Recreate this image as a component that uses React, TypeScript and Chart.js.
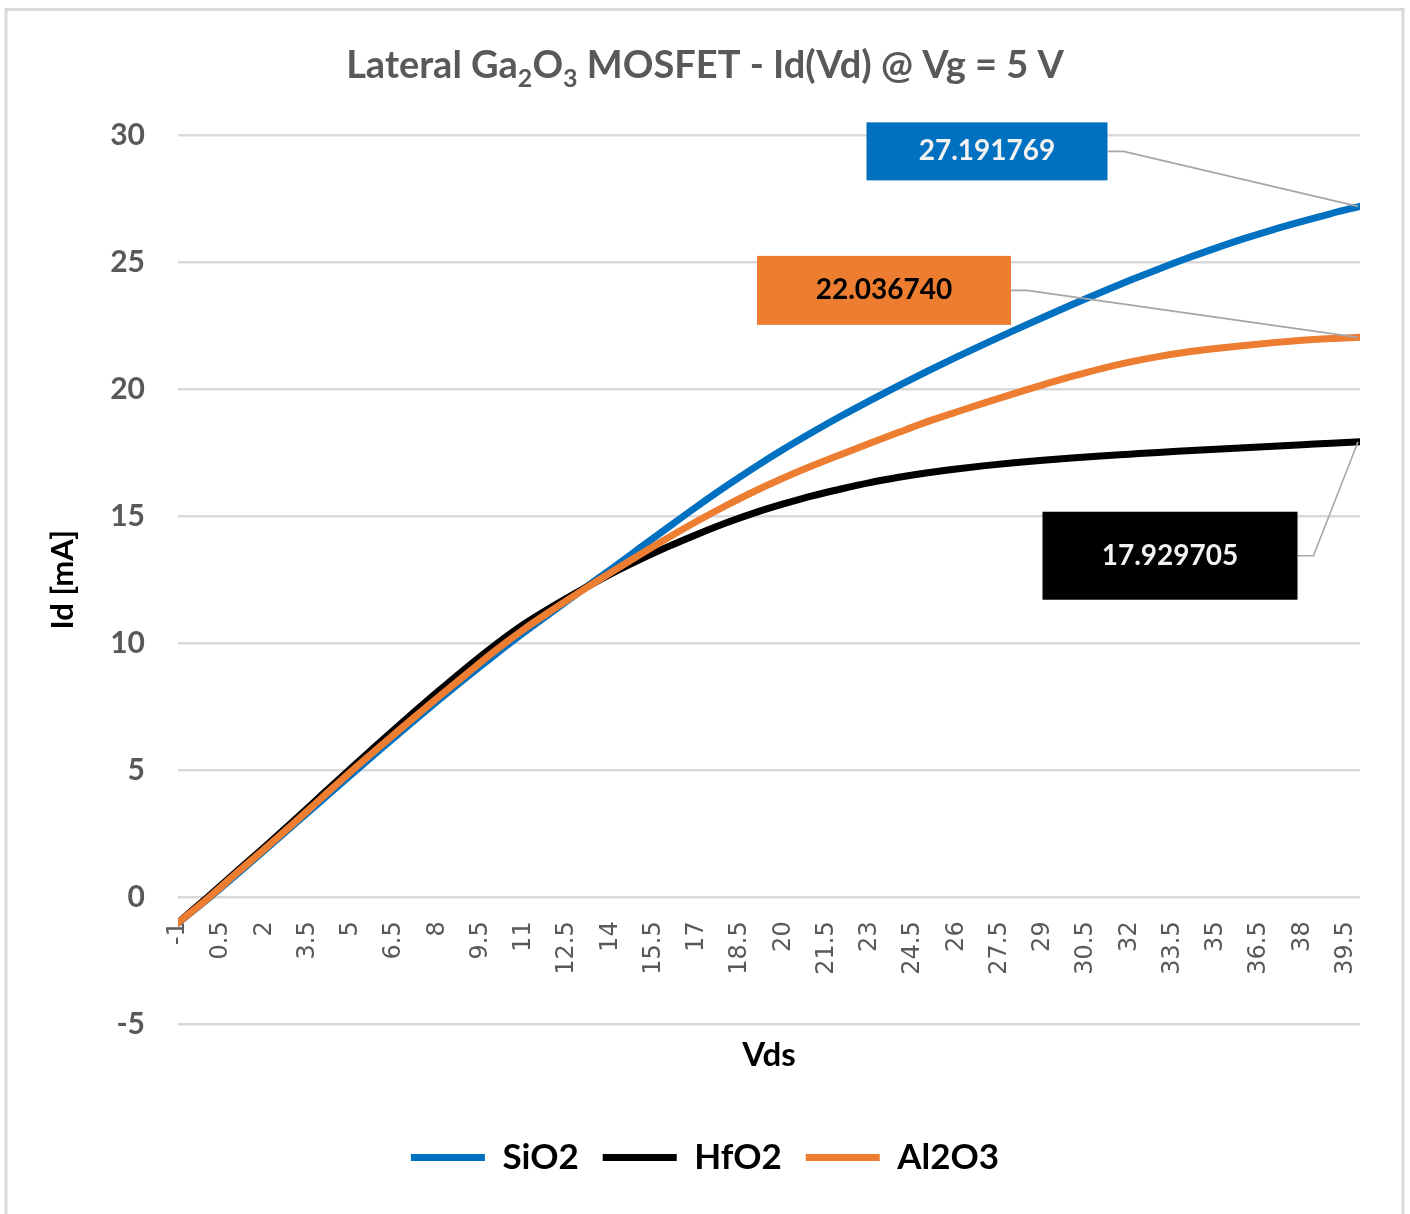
import React, { useEffect, useRef } from "react";
import { Chart, registerables } from "chart.js";

Chart.register(...registerables);

// ---------- data ----------
const VDS = [
  -1, 0, 1, 2, 3, 4, 5, 6, 7, 8, 9, 10, 11, 12, 13, 14, 15, 16, 17, 18, 19, 20,
  21, 22, 23, 24, 25, 26, 27, 28, 29, 30, 31, 32, 33, 34, 35, 36, 37, 38, 39, 40,
];

const SIO2 = [
  -1.0, -0.1, 0.87, 1.85, 2.84, 3.83, 4.82, 5.8, 6.77, 7.72, 8.65, 9.55, 10.42,
  11.25, 12.08, 12.9, 13.73, 14.56, 15.38, 16.17, 16.92, 17.63, 18.3, 18.94,
  19.55, 20.14, 20.71, 21.26, 21.79, 22.31, 22.82, 23.32, 23.8, 24.27, 24.72,
  25.15, 25.55, 25.93, 26.28, 26.6, 26.91, 27.191769,
];

const HFO2 = [
  -1.0, -0.02, 0.98, 1.98, 3.0, 4.04, 5.08, 6.1, 7.1, 8.08, 9.03, 9.93, 10.75,
  11.45, 12.1, 12.72, 13.28, 13.8, 14.28, 14.73, 15.13, 15.48, 15.8, 16.07,
  16.32, 16.53, 16.71, 16.86, 16.99, 17.1, 17.2, 17.29, 17.37, 17.44, 17.51,
  17.57, 17.63, 17.69, 17.75, 17.81, 17.87, 17.929705,
];

const AL2O3 = [
  -1.0, -0.08, 0.92, 1.9, 2.9, 3.93, 4.95, 5.93, 6.9, 7.85, 8.78, 9.7, 10.55,
  11.32, 12.06, 12.77, 13.47, 14.15, 14.8, 15.41, 15.98, 16.5, 16.98, 17.43,
  17.87, 18.3, 18.72, 19.1, 19.47, 19.82, 20.17, 20.5, 20.8, 21.06, 21.28,
  21.46, 21.6, 21.72, 21.83, 21.92, 21.99, 22.03674,
];

const X_TICKS = [
  -1, 0.5, 2, 3.5, 5, 6.5, 8, 9.5, 11, 12.5, 14, 15.5, 17, 18.5, 20, 21.5, 23,
  24.5, 26, 27.5, 29, 30.5, 32, 33.5, 35, 36.5, 38, 39.5,
];

const SERIES_NAMES = ["SiO2", "HfO2", "Al2O3"];
const TITLE_PARTS = [
  { text: "Lateral Ga", sub: false },
  { text: "2", sub: true },
  { text: "O", sub: false },
  { text: "3", sub: true },
  { text: " MOSFET - Id(Vd) @ Vg = 5 V", sub: false },
];
const X_TITLE = "Vds";
const Y_TITLE = "Id [mA]";

// ---------- styles ----------
const COLORS = ["#0070C0", "#000000", "#ED7D31"];
const CALLOUTS = [
  { dx: -373, dy: -55, w: 241, h: 58, fill: "#0070C0", text: "#F2F2F2" },
  { dx: -190, dy: 114, w: 255, h: 88, fill: "#000000", text: "#F2F2F2" },
  { dx: -476, dy: -47, w: 254, h: 69, fill: "#ED7D31", text: "#000000" },
];

const framePlugin = {
  id: "frame",
  beforeDraw(chart: any) {
    const ctx = chart.ctx;
    ctx.save();
    ctx.fillStyle = "#ffffff";
    ctx.fillRect(0, 0, chart.width, chart.height);
    ctx.strokeStyle = "#D9D9D9";
    ctx.lineWidth = 3;
    ctx.strokeRect(6, 9.5, 1397, 1230);
    ctx.restore();
  },
  afterDraw(chart: any) {
    const ctx = chart.ctx;
    ctx.save();
    const mainFont = "bold 38px Lato";
    const subFont = "bold 25px Lato";
    let total = 0;
    const widths = TITLE_PARTS.map((p) => {
      ctx.font = p.sub ? subFont : mainFont;
      const w = ctx.measureText(p.text).width;
      total += w;
      return w;
    });
    let x = chart.width / 2 - total / 2;
    const base = 78;
    ctx.fillStyle = "#595959";
    ctx.textBaseline = "alphabetic";
    ctx.textAlign = "left";
    TITLE_PARTS.forEach((p, i) => {
      ctx.font = p.sub ? subFont : mainFont;
      ctx.fillText(p.text, x, p.sub ? base + 9 : base);
      x += widths[i];
    });
    ctx.restore();
  },
};

const calloutPlugin = {
  id: "callouts",
  afterDatasetsDraw(chart: any) {
    const ctx = chart.ctx;
    ctx.save();
    chart.data.datasets.forEach((ds: any, i: number) => {
      const meta = chart.getDatasetMeta(i);
      const pt = meta.data[meta.data.length - 1];
      if (!pt) return;
      const c = CALLOUTS[i];
      const cx = pt.x + c.dx;
      const cy = pt.y + c.dy;
      const bx = cx - c.w / 2;
      const by = cy - c.h / 2;
      // leader line
      ctx.strokeStyle = "#A6A6A6";
      ctx.lineWidth = 1.6;
      ctx.beginPath();
      ctx.moveTo(bx + c.w, cy);
      ctx.lineTo(bx + c.w + 16, cy);
      ctx.lineTo(pt.x - 2, pt.y);
      ctx.stroke();
      // box
      ctx.fillStyle = c.fill;
      ctx.fillRect(bx, by, c.w, c.h);
      // text
      const last = ds.data[ds.data.length - 1].y;
      ctx.fillStyle = c.text;
      ctx.font = "bold 28px Lato";
      ctx.textAlign = "center";
      ctx.textBaseline = "middle";
      ctx.fillText(last.toFixed(6), cx, cy);
    });
    ctx.restore();
  },
};

export default function App() {
  const ref = useRef<HTMLCanvasElement | null>(null);

  useEffect(() => {
    document.body.style.margin = "0";
    let chart: Chart | null = null;
    let cancelled = false;
    const series = [SIO2, HFO2, AL2O3];
    const build = () => {
      if (cancelled || !ref.current) return;
      chart = new Chart(ref.current, {
        type: "line",
        data: {
          datasets: series.map((vals, i) => ({
            label: SERIES_NAMES[i],
            data: VDS.map((v, j) => ({ x: v, y: vals[j] })),
            borderColor: COLORS[i],
            backgroundColor: COLORS[i],
            borderWidth: 7,
            borderCapStyle: "round",
            borderJoinStyle: "round",
            pointRadius: 0,
            pointHoverRadius: 0,
            cubicInterpolationMode: "monotone",
            fill: false,
            order: 3 - i,
          })),
        },
        plugins: [framePlugin, calloutPlugin],
        options: {
          responsive: false,
          animation: false,
          devicePixelRatio: 1,
          events: [],
          layout: {
            autoPadding: false,
            padding: { top: 135, left: 0, right: 0, bottom: 29 },
          },
          scales: {
            x: {
              type: "linear",
              axis: "x",
              position: { y: 0 } as any,
              min: -1,
              max: 40,
              grid: { display: false, drawTicks: false },
              border: { display: false },
              afterFit: (scale: any) => {
                scale.height = 0;
              },
              afterBuildTicks: (scale: any) => {
                scale.ticks = X_TICKS.map((v) => ({ value: v }));
              },
              ticks: {
                autoSkip: false,
                minRotation: 90,
                maxRotation: 90,
                padding: 24,
                color: "#595959",
                font: { family: "'DejaVu Sans'", size: 24 },
                callback: (v: any) => String(v),
              },
            },
            y: {
              type: "linear",
              position: "left",
              min: -5,
              max: 30,
              afterFit: (scale: any) => {
                scale.width = 178;
              },
              ticks: {
                stepSize: 5,
                padding: 33,
                color: "#595959",
                font: { family: "Lato", size: 30, weight: "bold" },
              },
              grid: { color: "#D9D9D9", lineWidth: 2.5, drawTicks: false },
              border: { display: false },
              title: {
                display: true,
                text: Y_TITLE,
                color: "#000000",
                font: { family: "Lato", size: 31, weight: "bold" },
                padding: { top: 44, bottom: 0 },
              },
            },
            yRight: {
              type: "linear",
              position: "right",
              display: true,
              min: 0,
              max: 1,
              ticks: { display: false },
              grid: { display: false, drawTicks: false },
              border: { display: false },
              afterFit: (scale: any) => {
                scale.width = 50;
              },
            },
          },
          plugins: {
            title: { display: false },
            subtitle: {
              display: true,
              text: X_TITLE,
              position: "bottom",
              fullSize: false,
              weight: 100,
              color: "#000000",
              font: { family: "Lato", size: 33, weight: "bold" },
              padding: { top: 11, bottom: 41 },
            },
            legend: {
              display: true,
              position: "bottom",
              weight: 1000,
              maxHeight: 80,
              labels: {
                usePointStyle: true,
                pointStyle: "line",
                pointStyleWidth: 74,
                padding: 24,
                color: "#000000",
                font: { family: "Lato", size: 35, weight: "bold" },
                sort: (a: any, b: any) => a.datasetIndex - b.datasetIndex,
              },
            },
            tooltip: { enabled: false },
          },
        },
      } as any);
    };
    const loads = ["bold 38px Lato", "bold 30px Lato", "24px 'DejaVu Sans'"].map(
      (f) => (document as any).fonts.load(f)
    );
    Promise.all(loads).then(build, build);
    return () => {
      cancelled = true;
      if (chart) chart.destroy();
    };
  }, []);

  return (
    <div style={{ width: 1410, height: 1214 }}>
      <canvas ref={ref} width={1410} height={1214} style={{ display: "block" }} />
    </div>
  );
}
